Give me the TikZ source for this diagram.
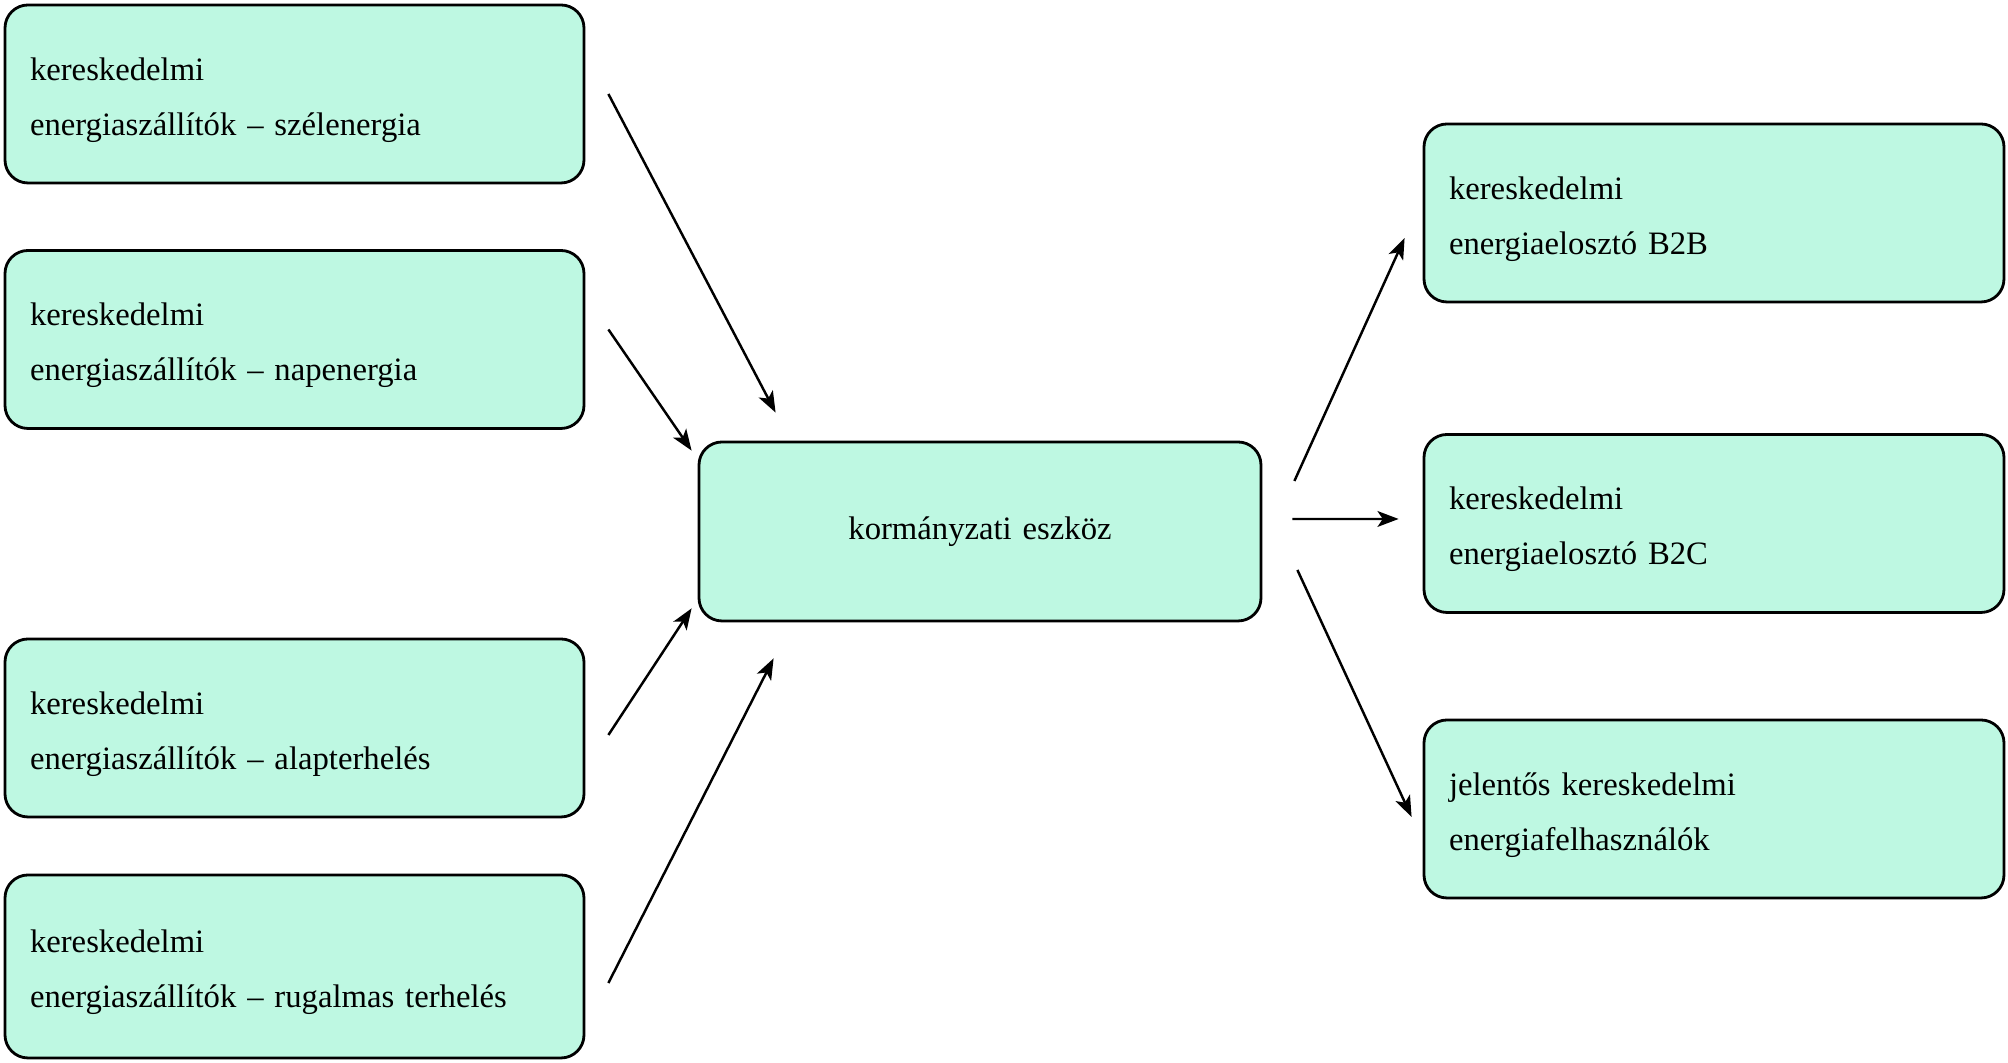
\documentclass[tikz,border=0pt]{standalone}
\usepackage{fontspec}
\setmainfont{Liberation Serif}
\usepackage{tikz}
\usetikzlibrary{arrows.meta}
\definecolor{boxfill}{RGB}{190,248,226}

\begin{document}
\begin{tikzpicture}[
  actor/.style={draw,line width=0.8pt,fill=boxfill,rounded corners=0.23cm,
    minimum width=5.79cm,minimum height=1.78cm,inner xsep=0.25cm,
    text width=5.29cm,align=left,text depth=14.3pt,
    font=\fontsize{9.3}{15.7}\selectfont},
  flow/.style={line width=0.7pt,-{Stealth[length=6pt,width=4.5pt,inset=1.5pt]}}
]
\useasboundingbox (0,0) rectangle (20.08,10.63);
%\draw[help lines] (0,0) grid (20,10);

% suppliers
\node[actor] (wind) at (2.945,9.69) {kereskedelmi\\energiaszállítók -- szélenergia};
\node[actor] (solar) at (2.945,7.235) {kereskedelmi\\energiaszállítók -- napenergia};
\node[actor] (base) at (2.945,3.35) {kereskedelmi\\energiaszállítók -- alapterhelés};
\node[actor,minimum height=1.83cm] (flex) at (2.945,0.965) {kereskedelmi\\energiaszállítók -- rugalmas terhelés};

% government
\node[actor,minimum width=5.62cm,minimum height=1.79cm,text width=5.12cm,align=center,text depth=] (gov) at (9.80,5.315) {kormányzati eszköz};

% distributors
\node[actor,minimum width=5.80cm,text width=5.30cm] (btob) at (17.14,8.50) {kereskedelmi\\energiaelosztó B2B};
\node[actor,minimum width=5.80cm,text width=5.30cm] (btoc) at (17.14,5.395) {kereskedelmi\\energiaelosztó B2C};
\node[actor,minimum width=5.80cm,text width=5.30cm] (users) at (17.14,2.54) {jelentős kereskedelmi\\energiafelhasználók};

% arrows in
\draw[flow] ([xshift=0.23cm]wind.east) -- ([shift={(0.78,0.28)}]gov.north west);
\draw[flow] ([shift={(0.23,0.1)}]solar.east) -- ([shift={(-0.06,-0.10)}]gov.north west);
\draw[flow] ([shift={(0.23,-0.07)}]base.east) -- ([shift={(-0.06,0.14)}]gov.south west);
\draw[flow] ([shift={(0.23,-0.165)}]flex.east) -- ([shift={(0.76,-0.36)}]gov.south west);

% arrows out
\draw[flow] ([shift={(0.32,0.505)}]gov.east) -- ([shift={(-0.18,-0.25)}]btob.west);
\draw[flow] ([shift={(0.30,0.125)}]gov.east) -- ([shift={(-0.24,0.045)}]btoc.west);
\draw[flow] ([shift={(0.35,-0.385)}]gov.east) -- ([shift={(-0.11,-0.08)}]users.west);
\end{tikzpicture}
\end{document}
